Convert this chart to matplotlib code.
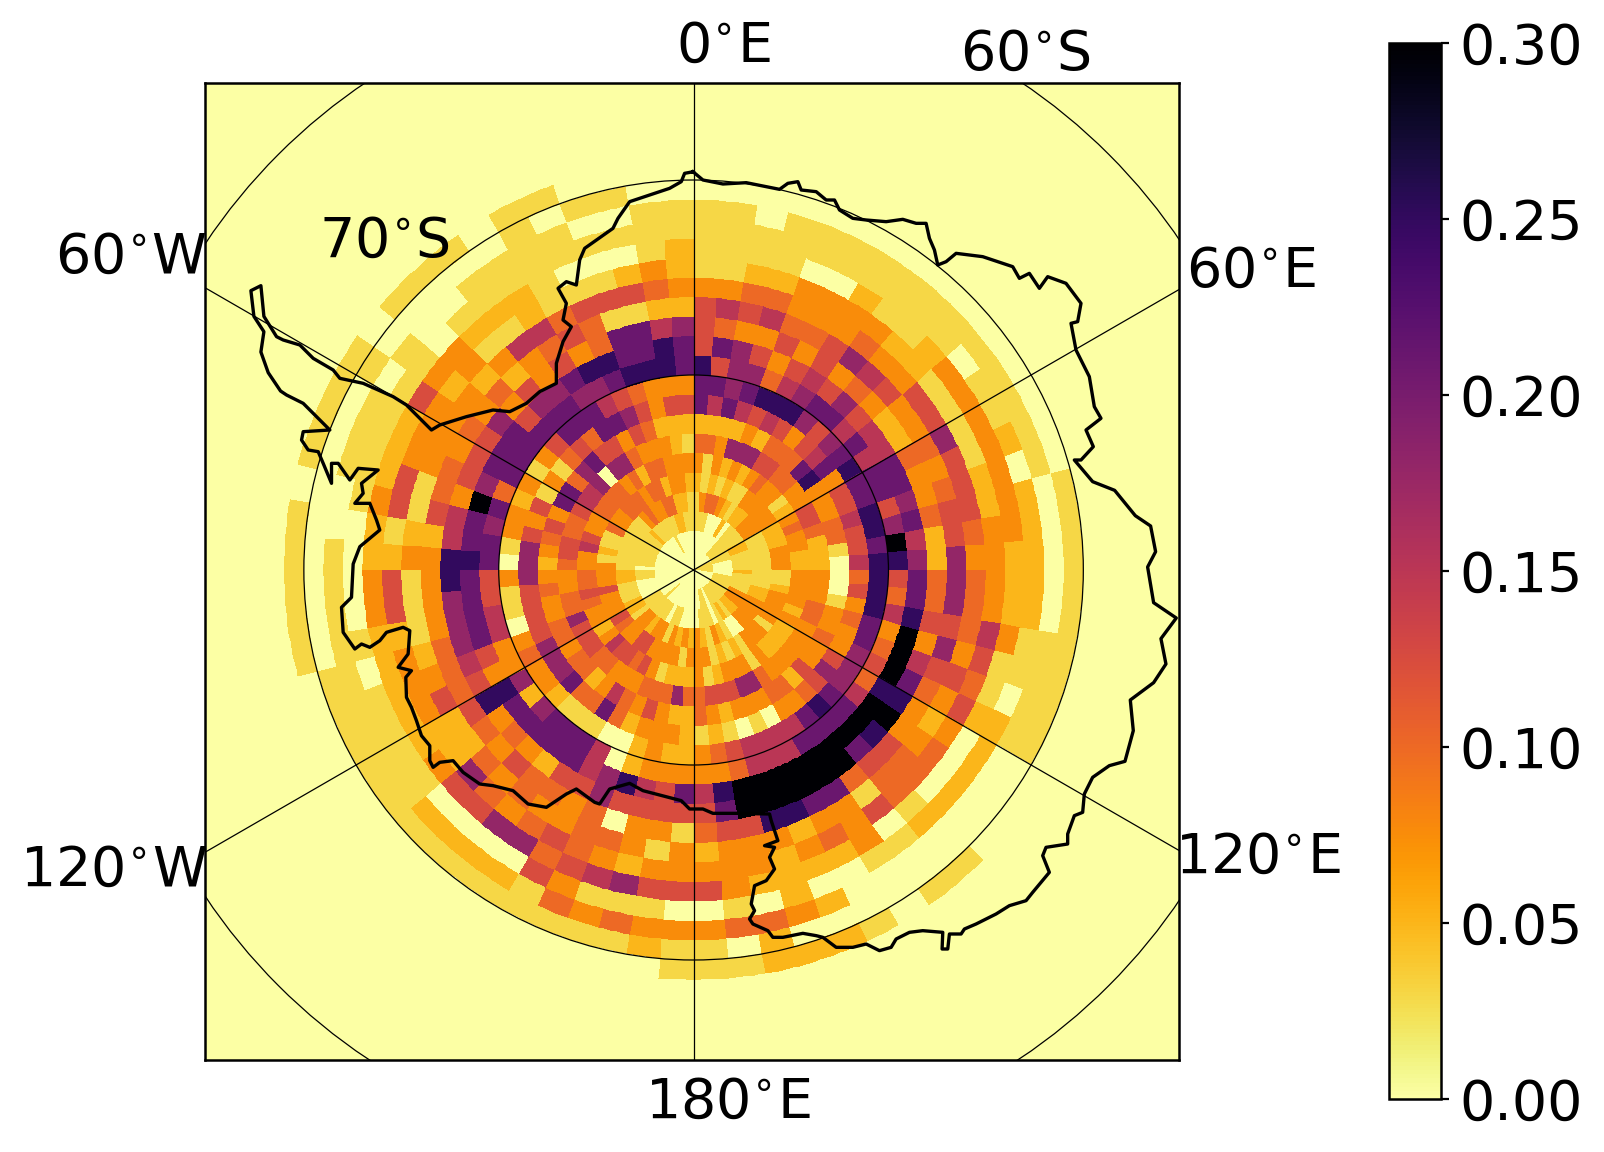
import numpy as np
import matplotlib
matplotlib.use("Agg")
import matplotlib.pyplot as plt
from matplotlib.patches import Circle

# value classes
levels = {'0': 0.0, '1': 0.03, '2': 0.05, '3': 0.075, '4': 0.10, '5': 0.125,
          '6': 0.15, '7': 0.18, '8': 0.21, '9': 0.25, 'a': 0.30}

# one string per 1-degree colatitude ring, 5-degree sectors clockwise from 0E
ring_00 = "000000000000011111" "110000000000000000" "000000000000000000" "000000000000000000"
ring_01 = "000000001111111000" "001111111111101100" "000000000100000000" "000000000000100000"
ring_02 = "111000201111221111" "211113332212101110" "000110111111000011" "011111112111112211"
ring_03 = "134432122333111111" "111223333300123123" "232313323312211122" "111111111343344221"
ring_04 = "212121133333222333" "112333313331212133" "313333553345333533" "312114334443442332"
ring_05 = "313232343312343322" "333323222231333213" "222135455632334544" "336533444434244333"
ring_06 = "443777554433554222" "333443333334775554" "474443334455574433" "455445667077433321"
ring_07 = "222232444893334410" "001334335244333234" "223534632443443343" "234538847855354222"
ring_08 = "868656535683556556" "453433575433010121" "233324844877755557" "775351314548875355"
ring_09 = "887899975789889989" "999887778986666543" "223200111233430113" "013323135888654333"
ring_10 = "9577467886868857a9" "546345468888666433" "333206888727336655" "887848888887789998"
ring_11 = "587535657566887867" "889aaa9aaaaaaaaa96" "856976888889358888" "988a78885778998898"
ring_12 = "543353534322433422" "4453689a98aaaaaa85" "555575523439567779" "966355573535348867"
ring_13 = "565644576533434557" "775754335548899554" "133043445345444333" "325443434234541122"
ring_14 = "334433343355755543" "444353234413323332" "313443343422532111" "321133332366455543"
ring_15 = "112233332211112233" "336545344453432333" "332345434722333255" "215533323112111232"
ring_16 = "111100211233333332" "223112000103222235" "557654775532222233" "223222533222100012"
ring_17 = "111111111101120222" "221102222211002010" "011135000011110100" "001111110111111111"
ring_18 = "110111111111111000" "001111000000023443" "334341222211111111" "100111010011110011"
ring_19 = "000000000000000111" "111111000000000201" "121111111111111000" "000000100000101100"
ring_20 = "000000000000000000" "000000000110122211" "100000000000000111" "110111101110110000"
rings = [ring_00, ring_01, ring_02, ring_03, ring_04, ring_05, ring_06, ring_07,
         ring_08, ring_09, ring_10, ring_11, ring_12, ring_13, ring_14, ring_15,
         ring_16, ring_17, ring_18, ring_19, ring_20]

# coastline, map units relative to the pole (58.5 units per degree of colatitude)
coast_x = [-2,28,88,158,258,283,313,323,368,398,423,438,478,518,578,628,668,698,708,723,733,758,788,868,958,978,1008,1038,1063,1118,1163,1153,1133,1148,1188,1203,1223,1178,1200,1163,1143,1198,1264,1326,1372,1387,1363,1381,1449,1403,1418,1381,1311,1320,1295,
           1248,1198,1173,1168,1143,1123,1123,1058,1048,1068,1018,998,948,908,848,813,803,768,763,746,748,688,648,608,593,558,518,478,428,388,368,328,268,238,223,178,168,183,173,183,218,243,228,243,213,253,233,228,128,58,28,-12,
           -37,-152,-192,-252,-282,-297,-352,-382,-442,-497,-542,-602,-642,-692,-722,-762,-782,-792,-792,-817,-832,-847,-862,-864,-847,-887,-857,-852,-872,-922,-942,-972,-997,-1017,-1052,-1057,-1027,-1022,
           -1002,-942,-952,-972,-1017,-992,-997,-947,-1007,-1032,-1067,-1087,-1087,-1112,-1127,-1157,-1177,-1172,-1092,-1122,-1172,-1222,-1240,-1277,-1299,-1290,-1320,-1329,-1299,-1290,-1252,
           -1232,-1182,-1142,-1082,-1062,-992,-902,-862,-822,-787,-762,-682,-602,-552,-502,-462,-412,-412,-392,-367,-392,-382,-407,-382,-352,-342,-327,-242,-227,-192,-72,-37,-27,0,-2]
coast_y = [1195,1170,1158,1162,1142,1160,1165,1140,1135,1110,1110,1080,1055,1050,1045,1052,1040,1040,995,960,915,925,950,940,910,875,890,845,880,860,800,745,740,660,580,490,455,420,370,330,330,265,239,163,132,55,9,-98,-144,-206,-282,-338,-390,-482,-574,
           -587,-622,-672,-727,-737,-792,-822,-832,-857,-907,-967,-992,-1007,-1032,-1062,-1077,-1092,-1092,-1137,-1137,-1087,-1082,-1087,-1107,-1132,-1142,-1122,-1132,-1132,-1102,-1097,-1090,-1102,-1102,-1082,-1062,-1047,-1022,-1002,-947,-932,-897,-862,-832,-827,-812,-752,-732,-730,-730,-717,-717,
           -692,-662,-640,-657,-702,-697,-657,-672,-712,-702,-662,-647,-642,-607,-572,-577,-592,-572,-527,-497,-452,-412,-382,-322,-302,-292,-252,-182,-172,-187,-212,-232,-222,-237,-187,-112,-82,18,
           70,120,150,200,200,230,260,300,305,270,320,320,260,320,355,360,390,415,420,450,500,525,537,592,654,715,761,838,853,761,700,
           690,675,635,600,575,560,520,495,455,420,435,460,480,475,500,535,560,620,685,730,750,800,845,865,855,930,965,1025,1055,1105,1145,1165,1190,1195,1195]

tick_values = [0.00, 0.05, 0.10, 0.15, 0.20, 0.25, 0.30]
tick_labels = ["0.00", "0.05", "0.10", "0.15", "0.20", "0.25", "0.30"]
meridians = [0, 60, 120, 180, 240, 300]
parallel_radii = [1763, 1170, 585]   # 60S, 70S, 80S in map units
map_labels = ["0$^{\\circ}$E", "60$^{\\circ}$S", "60$^{\\circ}$E", "120$^{\\circ}$E", "180$^{\\circ}$E",
              "120$^{\\circ}$W", "60$^{\\circ}$W", "70$^{\\circ}$S"]
label_x = [707, 1003, 1223, 1230, 712, 111, 128, 376]
label_y = [46, 54, 266, 838, 1078, 851, 252, 236]

assert all(len(r) == 72 for r in rings), [len(r) for r in rings]
assert len(coast_x) == len(coast_y), (len(coast_x), len(coast_y))

W, H = 1604, 1152
fig = plt.figure(figsize=(W / 200, H / 200), dpi=200)
ax = fig.add_axes([204.6 / W, 1 - 1060 / H, 974 / W, 977 / H])
UNITS = 58.5
cmap = plt.get_cmap("inferno_r")
ax.set_facecolor(cmap(0.0))

C = np.array([[levels[c] for c in r] for r in rings])
C = np.repeat(C, 5, axis=1)
th = np.radians(np.arange(0, 361))
rad = np.arange(0, C.shape[0] + 1) * UNITS
T, R = np.meshgrid(th, rad)
mesh = ax.pcolormesh(R * np.sin(T), R * np.cos(T), C, cmap=cmap, vmin=0, vmax=0.3,
                     shading="flat", antialiased=False, linewidth=0)

for rr in parallel_radii:
    ax.add_patch(Circle((0, 0), rr, fill=False, ec="black", lw=0.45))
for lon in meridians:
    a = np.radians(lon)
    ax.plot([0, 3000 * np.sin(a)], [0, 3000 * np.cos(a)], color="black", lw=0.45)
ax.plot(coast_x, coast_y, color="black", lw=1.2, solid_joinstyle="round")

ax.set_xlim(-1468, 1456)
ax.set_ylim(-1470, 1461)
ax.set_xticks([])
ax.set_yticks([])
for s in ax.spines.values():
    s.set_linewidth(0.9)

for t, x, y in zip(map_labels, label_x, label_y):
    fig.text(x / 1568, 1 - y / 1126, t, fontsize=20, ha="center", va="center")

cax = fig.add_axes([1388.5 / W, 1 - 1099 / H, 52 / W, 1056 / H])
cb = fig.colorbar(mesh, cax=cax, ticks=tick_values)
cb.ax.set_yticklabels(tick_labels)
cb.ax.tick_params(labelsize=20, length=3, width=0.8, pad=3.8)
cb.outline.set_linewidth(0.9)

fig.savefig("out.png", dpi=200)
